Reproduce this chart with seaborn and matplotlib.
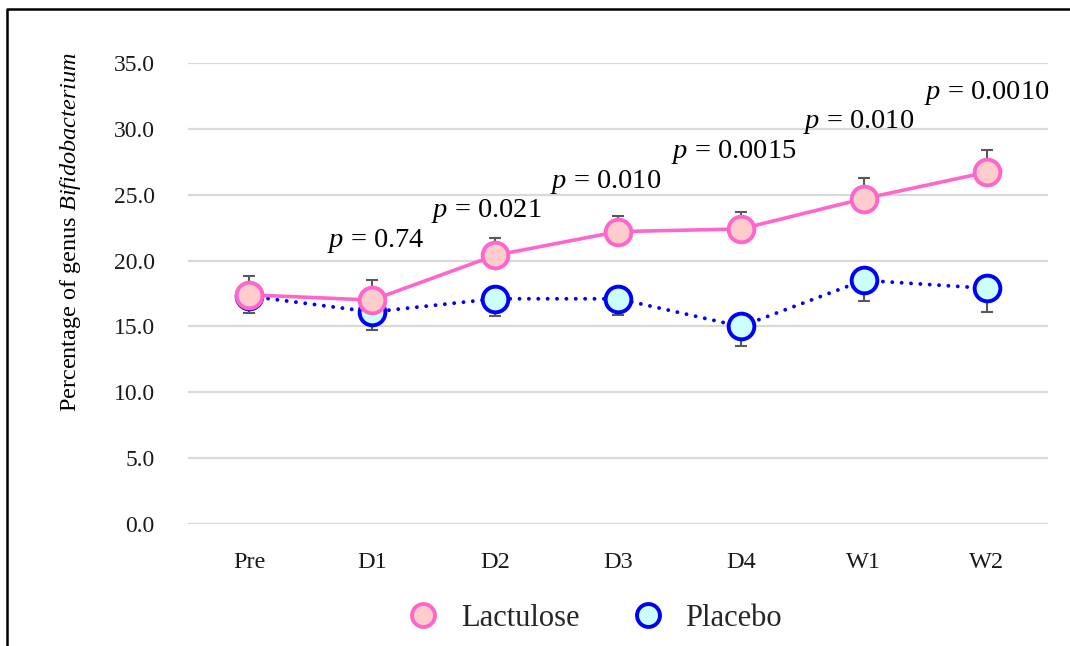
import matplotlib
matplotlib.use("Agg")
import matplotlib.pyplot as plt
from matplotlib.lines import Line2D
import numpy as np
import pandas as pd
import seaborn as sns

# Relative abundance of genus Bifidobacterium (mean with error) per time point
timepoints = ["Pre", "D1", "D2", "D3", "D4", "W1", "W2"]
lactulose = [17.4, 17.0, 20.4, 22.2, 22.4, 24.7, 26.7]
lactulose_err = [1.4, 1.5, 1.3, 1.2, 1.3, 1.6, 1.7]
placebo = [17.3, 16.1, 17.1, 17.1, 15.0, 18.5, 17.9]
placebo_err = [1.25, 1.4, 1.3, 1.2, 1.5, 1.6, 1.8]

# Between-group p values, shown above time points D1..W2
p_values = ["0.74", "0.021", "0.010", "0.0015", "0.010", "0.0010"]
p_label_x = [1.03, 1.93, 2.9, 3.94, 4.96, 6.0]
p_label_y = [21.0, 23.3, 25.5, 27.8, 30.05, 32.25]

y_ticks = [0, 5, 10, 15, 20, 25, 30, 35]

sns.set_theme(style="white")
plt.rcParams["font.family"] = ["Liberation Serif", "DejaVu Serif"]
plt.rcParams["mathtext.fontset"] = "custom"
plt.rcParams["mathtext.rm"] = "Liberation Serif"
plt.rcParams["mathtext.it"] = "Liberation Serif:italic"

PINK = "#FF66CC"
PINK_FACE = "#FFCCCC"
BLUE = "#0000FF"
BLUE_FACE = "#CCFFFF"
ERR = "#595959"

pos = np.arange(len(timepoints))
df = pd.DataFrame({
    "pos": np.concatenate([pos, pos]),
    "value": lactulose + placebo,
    "group": ["Lactulose"] * len(pos) + ["Placebo"] * len(pos),
})

fig = plt.figure(figsize=(10.7, 6.46), dpi=100)
ax = fig.add_axes([188 / 1070, 1 - 524 / 646, 860 / 1070, 461 / 646])

# Error bars: upper for lactulose, lower for placebo
ax.errorbar(pos, lactulose, yerr=[np.zeros(len(pos)), lactulose_err], fmt="none",
            ecolor=ERR, elinewidth=1.5, capsize=4.5, capthick=1.5, zorder=2)
ax.errorbar(pos, placebo, yerr=[placebo_err, np.zeros(len(pos))], fmt="none",
            ecolor=ERR, elinewidth=1.5, capsize=4.5, capthick=1.5, zorder=2)

sns.lineplot(data=df[df["group"] == "Placebo"], x="pos", y="value", ax=ax,
             color=BLUE, linewidth=2.8, marker="o", markersize=18.5,
             markerfacecolor=BLUE_FACE, markeredgecolor=BLUE, markeredgewidth=2.8,
             errorbar=None, zorder=3)
pl_line = ax.lines[-1]
pl_line.set_linestyle((0, (0.01, 2.4)))
pl_line.set_dash_capstyle("round")

sns.lineplot(data=df[df["group"] == "Lactulose"], x="pos", y="value", ax=ax,
             color=PINK, linewidth=2.6, marker="o", markersize=18.5,
             markerfacecolor=PINK_FACE, markeredgecolor=PINK, markeredgewidth=2.8,
             errorbar=None, zorder=4)

for x, y, p in zip(p_label_x, p_label_y, p_values):
    ax.text(x, y, r"$\mathit{p}$ = " + p, ha="center", va="baseline",
            fontsize=20.5, color="#000000", zorder=5)

ax.set_xlim(-0.5, len(timepoints) - 0.5)
ax.set_ylim(0, 35)
ax.set_yticks(y_ticks)
ax.set_yticklabels([f"{t:.1f}" for t in y_ticks])
ax.set_xticks(pos)
ax.set_xticklabels(timepoints)
ax.tick_params(axis="y", length=0, pad=24, labelsize=17, labelcolor="#1A1A1A")
ax.tick_params(axis="x", length=0, pad=20, labelsize=17.5, labelcolor="#1A1A1A")
ax.grid(axis="y", color="#D9D9D9", linewidth=1.6)
ax.grid(axis="x", visible=False)
for s in ax.spines.values():
    s.set_visible(False)
ax.set_xlabel("")
ax.set_ylabel(r"Percentage of genus $\mathit{Bifidobacterium}$", fontsize=17.5, color="#000000")
ax.yaxis.set_label_coords(-0.122, 0.633)

handles = [
    Line2D([], [], linestyle="none", marker="o", markersize=16.5,
           markerfacecolor=PINK_FACE, markeredgecolor=PINK, markeredgewidth=2.8),
    Line2D([], [], linestyle="none", marker="o", markersize=16.5,
           markerfacecolor=BLUE_FACE, markeredgecolor=BLUE, markeredgewidth=2.8),
]
fig.legend(handles, ["Lactulose", "Placebo"], loc="center",
           bbox_to_anchor=(595 / 1070, 1 - 618 / 646), ncol=2, frameon=False,
           fontsize=22, handlelength=1.0, handletextpad=0.72, columnspacing=1.75)

# Outer frame (top and left edges)
fig.add_artist(Line2D([7 / 1070, 7 / 1070, 1.0], [0.0, 1 - 9 / 646, 1 - 9 / 646],
                      transform=fig.transFigure, color="black", linewidth=1.8))

fig.savefig("out.png", dpi=100)
